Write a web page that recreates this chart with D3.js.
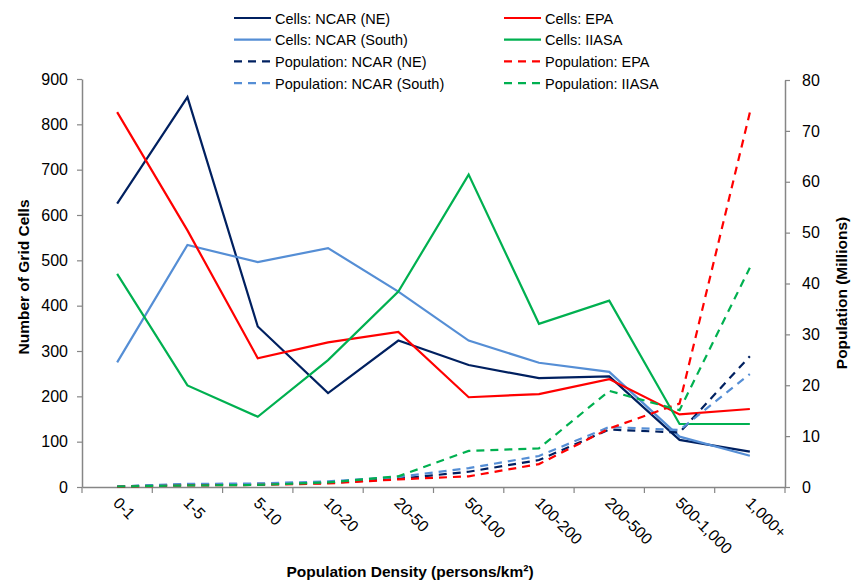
<!DOCTYPE html>
<html><head><meta charset="utf-8">
<script src="https://cdn.jsdelivr.net/npm/d3@7"></script>
<style>body{margin:0;background:#fff}svg{font-family:"Liberation Sans",Arial,sans-serif}</style>
</head><body><svg id="c" width="851" height="584"></svg>
<script>
const categories = ["0-1","1-5","5-10","10-20","20-50","50-100","100-200","200-500","500-1,000","1,000+"];
const cellsNE    = [625,860,354,207,323,269,240,244,104,78];
const cellsSouth = [275,534,496,527,431,323,274,254,111,69];
const cellsEPA   = [827,566,284,319,342,198,205,238,160,172];
const cellsIIASA = [470,224,155,280,431,689,360,411,139,139];
const popNE      = [0.1,0.5,0.6,0.8,1.6,3.0,5.3,11.3,10.7,25.7];
const popSouth   = [0.1,0.6,0.7,1.1,2.0,3.7,6.1,11.8,11.2,22.2];
const popEPA     = [0.05,0.3,0.4,0.7,1.5,2.1,4.5,11.5,16.4,73.6];
const popIIASA   = [0.1,0.3,0.4,0.9,2.1,7.1,7.6,18.9,15.1,43.1];
const leftTicks  = [0,100,200,300,400,500,600,700,800,900];
const rightTicks = [0,10,20,30,40,50,60,70,80];

const series = [
  {name:"Cells: NCAR (NE)", values:cellsNE, color:"#002060", dash:null, axis:"L"},
  {name:"Cells: NCAR (South)", values:cellsSouth, color:"#558ED5", dash:null, axis:"L"},
  {name:"Cells: EPA", values:cellsEPA, color:"#FF0000", dash:null, axis:"L"},
  {name:"Cells: IIASA", values:cellsIIASA, color:"#00B050", dash:null, axis:"L"},
  {name:"Population: NCAR (NE)", values:popNE, color:"#002060", dash:"8,6", axis:"R"},
  {name:"Population: NCAR (South)", values:popSouth, color:"#558ED5", dash:"8,6", axis:"R"},
  {name:"Population: EPA", values:popEPA, color:"#FF0000", dash:"8,6", axis:"R"},
  {name:"Population: IIASA", values:popIIASA, color:"#00B050", dash:"8,6", axis:"R"}
];

const svg = d3.select("#c");
const L = 82, R = 785, T = 79, B = 487;
const x = d3.scaleBand().domain(categories).range([L,R]);
const yL = d3.scaleLinear().domain([0,900]).range([B,T]);
const yR = d3.scaleLinear().domain([0,80]).range([B,T+1]);
const axisColor = "#868686";

function styleAxis(g){
  g.select(".domain").attr("stroke",axisColor).attr("stroke-width",1.5);
  g.selectAll(".tick line").attr("stroke",axisColor).attr("stroke-width",1.2);
  g.selectAll(".tick text").attr("fill","#000").style("font-size","16px");
}

const gL = svg.append("g").attr("transform",`translate(${L},0)`)
  .call(d3.axisLeft(yL).tickValues(leftTicks).tickSize(5).tickSizeOuter(0).tickPadding(9));
styleAxis(gL);
const gR = svg.append("g").attr("transform",`translate(${R},0)`)
  .call(d3.axisRight(yR).tickValues(rightTicks).tickSize(5).tickSizeOuter(0).tickPadding(12));
styleAxis(gR);
const gB = svg.append("g").attr("transform",`translate(0,${B})`)
  .call(d3.axisBottom(x).tickSize(0).tickFormat(""));
gB.select(".domain").attr("stroke",axisColor).attr("stroke-width",1.5);
const bounds = categories.map(c=>x(c)).concat([R]);
svg.append("g").selectAll("line").data(bounds).join("line")
  .attr("x1",d=>d).attr("x2",d=>d).attr("y1",B).attr("y2",B+6)
  .attr("stroke",axisColor).attr("stroke-width",1.2);
svg.append("g").selectAll("text").data(categories).join("text")
  .attr("transform",d=>`translate(${x(d)+x.bandwidth()/2-5},${B+17}) rotate(45)`)
  .attr("text-anchor","start").style("font-size","16px").text(d=>d);

series.forEach(s=>{
  const ys = s.axis==="L"?yL:yR;
  const line = d3.line().x((d,i)=>x(categories[i])+x.bandwidth()/2).y(d=>ys(d));
  svg.append("path").datum(s.values).attr("d",line)
    .attr("fill","none").attr("stroke",s.color).attr("stroke-width",2.2)
    .attr("stroke-dasharray",s.dash);
});

svg.append("text").attr("x",410).attr("y",577).attr("text-anchor","middle")
  .style("font-size","15.5px").style("font-weight","bold").text("Population Density (persons/km²)");
svg.append("text").attr("transform","translate(29,277) rotate(-90)").attr("text-anchor","middle")
  .style("font-size","15.5px").style("font-weight","bold").text("Number of Grid Cells");
svg.append("text").attr("transform","translate(847,293) rotate(-90)").attr("text-anchor","middle")
  .style("font-size","15.5px").style("font-weight","bold").text("Population (Millions)");

const legendOrder = [0,2,1,3,4,6,5,7];
legendOrder.forEach((si,k)=>{
  const s = series[si];
  const col = k%2, row = Math.floor(k/2);
  const lx = col===0?234:504, ly = 18 + row*21.7;
  svg.append("line").attr("x1",lx).attr("x2",lx+37).attr("y1",ly).attr("y2",ly)
    .attr("stroke",s.color).attr("stroke-width",2.2).attr("stroke-dasharray",s.dash?"8,6":null);
  svg.append("text").attr("x",lx+41).attr("y",ly+5.5).style("font-size","14.5px").text(s.name);
});
</script></body></html>
